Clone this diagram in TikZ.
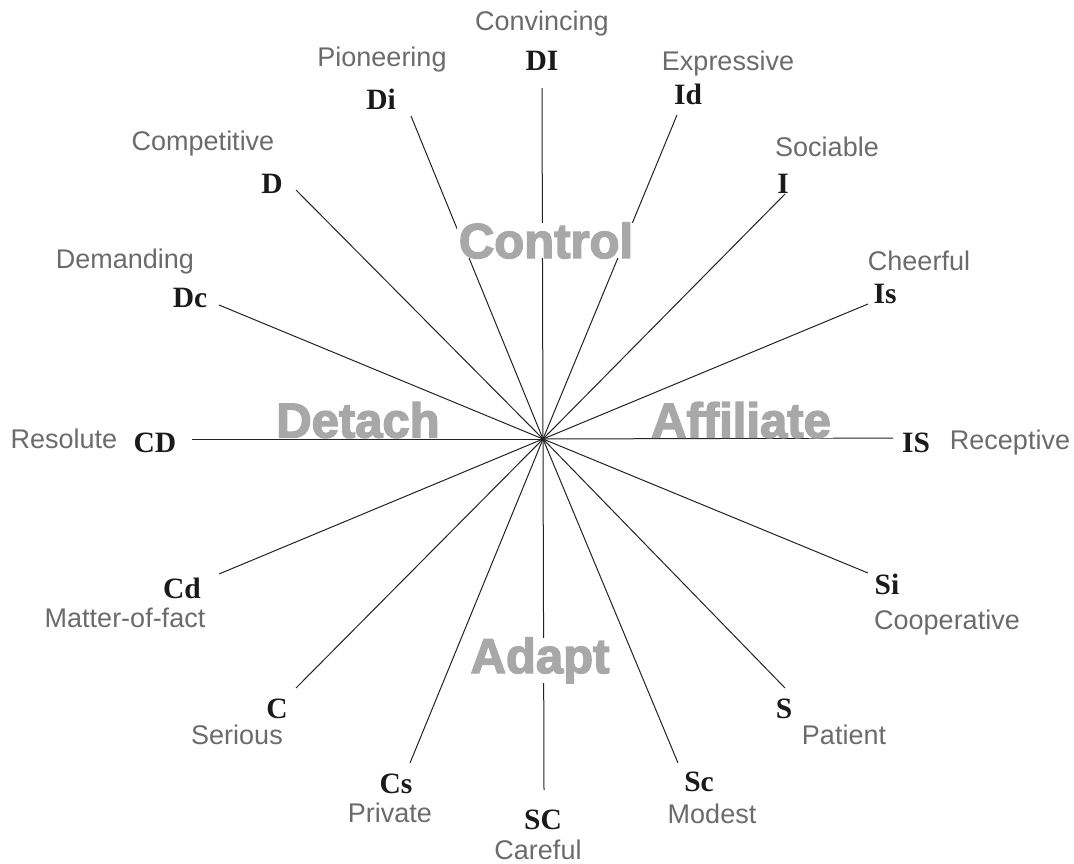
\documentclass[tikz,border=0pt]{standalone}
\usepackage{fontspec}
\setmainfont{Liberation Sans}
\newfontfamily\codefont{Liberation Serif}
\newfontfamily\bigfont{Liberation Sans Bold}[FakeBold=3]
\definecolor{lblgray}{HTML}{6B6B6B}
\definecolor{biggray}{HTML}{A8A8A8}
\definecolor{codeblack}{HTML}{1A1A1A}
\definecolor{spoke}{HTML}{222222}
\tikzset{
  lbl/.style={anchor=base, inner sep=0pt, text=lblgray, font=\fontsize{27}{30}\selectfont},
  code/.style={anchor=base, inner sep=0pt, text=codeblack, font=\codefont\bfseries\fontsize{29.5}{31}\selectfont},
  bigword/.style={anchor=base, fill=white, inner xsep=2pt, inner ysep=0pt, text height=35pt, text=biggray, font=\bigfont\fontsize{49}{51}\selectfont},
  spokeline/.style={draw=spoke, line width=1pt}
}
\begin{document}
\begin{tikzpicture}[x=1pt,y=-1pt]
\useasboundingbox (0,0) rectangle (1074,863);
% centre and spoke ends
\coordinate (O) at (543,439);
\coordinate (eDI) at (542,88);
\coordinate (eDi) at (411,116);
\coordinate (eId) at (677,115);
\coordinate (eD) at (296,190);
\coordinate (eI) at (785,194);
\coordinate (eDc) at (219,305);
\coordinate (eIs) at (868,304);
\coordinate (eCD) at (192,439);
\coordinate (eIS) at (893,438);
\coordinate (eCd) at (219,574);
\coordinate (eSi) at (868,573);
\coordinate (eC) at (296,688);
\coordinate (eS) at (785,688);
\coordinate (eCs) at (410,763);
\coordinate (eSc) at (678,763);
\coordinate (eSC) at (544,790);
% big words (drawn first, spokes on top except where masked below)
\foreach \e in {eDI,eDi,eId,eD,eI,eDc,eIs,eCD,eIS,eCd,eSi,eC,eS,eCs,eSc,eSC}
  \draw[spokeline] (O) -- (\e);
\fill[spoke] (O) circle (1.6pt);
\node[bigword] (control) at (546,258) {Control};
\node[bigword] (detach) at (358,437.5) {Detach};
\node[bigword] (affiliate) at (741,437.5) {Affiliate};
\node[bigword] (adapt) at (540,673) {Adapt};
% codes
\node[code] (cDI) at (542,70) {DI};
\node[code] (cDi) at (381,109) {Di};
\node[code] (cId) at (688,104) {Id};
\node[code] (cD) at (272,193) {D};
\node[code] (cI) at (783,193) {I};
\node[code] (cDc) at (190,307) {Dc};
\node[code] (cIs) at (885,303) {Is};
\node[code] (cCD) at (155,452) {CD};
\node[code] (cIS) at (916,452) {IS};
\node[code] (cCd) at (182,598) {Cd};
\node[code] (cSi) at (887,594) {Si};
\node[code] (cC) at (277,718) {C};
\node[code] (cS) at (784,718) {S};
\node[code] (cCs) at (396,793) {Cs};
\node[code] (cSc) at (699,791) {Sc};
\node[code] (cSC) at (543,829) {SC};
% labels
\node[lbl] (lDI) at (542,30) {Convincing};
\node[lbl] (lDi) at (382,66) {Pioneering};
\node[lbl] (lId) at (728,70) {Expressive};
\node[lbl] (lD) at (203,150) {Competitive};
\node[lbl] (lI) at (827,156) {Sociable};
\node[lbl] (lDc) at (125,268) {Demanding};
\node[lbl] (lIs) at (919,270) {Cheerful};
\node[lbl] (lCD) at (64,448) {Resolute};
\node[lbl] (lIS) at (1010,449) {Receptive};
\node[lbl] (lCd) at (125,627) {Matter-of-fact};
\node[lbl] (lSi) at (947,629) {Cooperative};
\node[lbl] (lC) at (237,744) {Serious};
\node[lbl] (lS) at (844,744) {Patient};
\node[lbl] (lCs) at (390,822) {Private};
\node[lbl] (lSc) at (712,823) {Modest};
\node[lbl] (lSC) at (538,859) {Careful};
\end{tikzpicture}
\end{document}
